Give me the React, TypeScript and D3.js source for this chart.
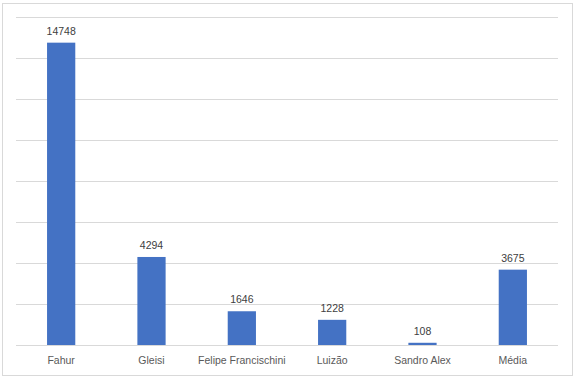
import React from "react";
import * as d3 from "d3";

const categories = ["Fahur", "Gleisi", "Felipe Francischini", "Luizão", "Sandro Alex", "Média"];
const values = [14748, 4294, 1646, 1228, 108, 3675];
const gridTicks = [0, 2000, 4000, 6000, 8000, 10000, 12000, 14000, 16000];

export default function App() {
  const W = 577, H = 379;
  const left = 16, right = 558, top = 17, bottom = 345;
  const x = d3.scaleBand<string>().domain(categories).range([left, right]).paddingInner(0).paddingOuter(0);
  const y = d3.scaleLinear().domain([0, 16000]).range([bottom, top]);
  const bw = x.bandwidth() / 3.2;
  const font = "'Liberation Sans', Arial, sans-serif";
  return (
    <svg width={W} height={H} style={{ position: "absolute", left: 0, top: 0 }}>
      <rect x={0} y={0} width={W} height={H} fill="#fff" />
      <rect x={2.5} y={3.5} width={570} height={372} fill="#fff" stroke="#d9d9d9" strokeWidth={1} />
      {gridTicks.map((t) => (
        <line key={t} x1={left} x2={right} y1={Math.round(y(t)) + 0.5} y2={Math.round(y(t)) + 0.5} stroke="#d9d9d9" strokeWidth={1} />
      ))}
      {categories.map((c, i) => {
        const cx = (x(c) as number) + x.bandwidth() / 2;
        return (
          <g key={c}>
            <rect x={cx - bw / 2} y={y(values[i])} width={bw} height={bottom - y(values[i])} fill="#4472c4" />
            <text x={cx} y={y(values[i]) - 8} textAnchor="middle" fontFamily={font} fontSize={10.5} fill="#404040">
              {values[i]}
            </text>
            <text x={cx} y={364} textAnchor="middle" fontFamily={font} fontSize={10.5} fill="#595959">
              {c}
            </text>
          </g>
        );
      })}
    </svg>
  );
}
